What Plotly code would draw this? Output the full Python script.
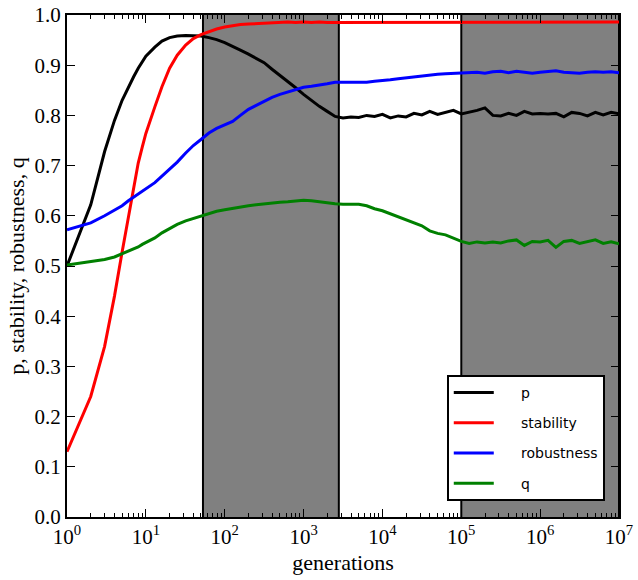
import plotly.graph_objects as go

# generations (log spaced sampling)
generations = [1, 2, 3, 4, 5, 6, 7, 8, 9,
               10, 13, 16, 20, 25, 32, 40, 50, 63, 79,
               100, 126, 158, 200, 251, 316, 398, 501, 631, 794,
               1000, 1259, 1585, 1995, 2512, 3162, 3981, 5012, 6310, 7943,
               10000, 12589, 15849, 19953, 25119, 31623, 39811, 50119, 63096, 79433,
               100000, 125893, 158489, 199526, 251189, 316228, 398107, 501187, 630957, 794328,
               1000000, 1258925, 1584893, 1995262, 2511886, 3162278, 3981072, 5011872, 6309573, 7943282,
               10000000]

p = [0.500, 0.622, 0.728, 0.790, 0.830, 0.857, 0.877, 0.894, 0.907,
     0.918, 0.936, 0.948, 0.955, 0.958, 0.959, 0.959, 0.958, 0.955, 0.951,
     0.945, 0.938, 0.930, 0.922, 0.914, 0.905, 0.892, 0.880, 0.868, 0.855,
     0.842, 0.830, 0.818, 0.808, 0.798, 0.795, 0.797, 0.796, 0.800, 0.798,
     0.802, 0.795, 0.799, 0.797, 0.804, 0.801, 0.808, 0.802, 0.806, 0.810,
     0.803, 0.806, 0.810, 0.815, 0.800, 0.799, 0.804, 0.800, 0.808, 0.803,
     0.804, 0.803, 0.804, 0.797, 0.806, 0.804, 0.799, 0.806, 0.801, 0.806,
     0.803]

stability = [0.130, 0.240, 0.340, 0.440, 0.528, 0.600, 0.655, 0.705, 0.737,
             0.764, 0.817, 0.857, 0.894, 0.920, 0.940, 0.953, 0.961, 0.967, 0.972,
             0.976, 0.979, 0.981, 0.982, 0.983, 0.984, 0.985, 0.985, 0.986, 0.985,
             0.986, 0.985, 0.986, 0.985, 0.985, 0.986, 0.985, 0.986, 0.985, 0.986,
             0.985, 0.986, 0.985, 0.985, 0.986, 0.985, 0.986, 0.985, 0.985, 0.986,
             0.985, 0.986, 0.985, 0.986, 0.985, 0.985, 0.986, 0.985, 0.986, 0.985,
             0.985, 0.986, 0.985, 0.986, 0.985, 0.985, 0.986, 0.985, 0.986, 0.985,
             0.986]

robustness = [0.572, 0.586, 0.600, 0.611, 0.620, 0.630, 0.637, 0.643, 0.648,
              0.654, 0.666, 0.679, 0.693, 0.707, 0.725, 0.740, 0.752, 0.765, 0.774,
              0.781, 0.788, 0.800, 0.812, 0.820, 0.828, 0.836, 0.842, 0.847, 0.852,
              0.856, 0.858, 0.860, 0.863, 0.866, 0.866, 0.865, 0.866, 0.866, 0.868,
              0.869, 0.871, 0.873, 0.875, 0.876, 0.878, 0.880, 0.882, 0.883, 0.884,
              0.885, 0.885, 0.886, 0.884, 0.887, 0.888, 0.885, 0.888, 0.886, 0.884,
              0.886, 0.887, 0.889, 0.886, 0.885, 0.884, 0.886, 0.887, 0.886, 0.887,
              0.885]

q = [0.502, 0.508, 0.513, 0.518, 0.524, 0.529, 0.534, 0.538, 0.543,
     0.547, 0.556, 0.566, 0.575, 0.583, 0.590, 0.595, 0.600, 0.604, 0.609,
     0.612, 0.615, 0.618, 0.620, 0.622, 0.624, 0.626, 0.627, 0.628, 0.630,
     0.631, 0.630, 0.628, 0.625, 0.624, 0.623, 0.623, 0.623, 0.620, 0.614,
     0.610, 0.604, 0.599, 0.592, 0.586, 0.580, 0.570, 0.565, 0.562, 0.555,
     0.549, 0.545, 0.548, 0.546, 0.548, 0.546, 0.550, 0.552, 0.541, 0.549,
     0.548, 0.551, 0.537, 0.549, 0.551, 0.545, 0.549, 0.552, 0.545, 0.548,
     0.544]

# shaded phases
shade1 = (53, 2800)
shade2 = (100000, 10000000)

xtick_vals = [10 ** k for k in range(8)]
xtick_text = ["10<sup>%d</sup>" % k for k in range(8)]
minor_vals = [m * 10 ** k for k in range(7) for m in range(2, 10)]

series = [("p", p, "#000000"),
          ("stability", stability, "#ff0000"),
          ("robustness", robustness, "#0000ff"),
          ("q", q, "#008000")]

fig = go.Figure()
for name, vals, col in series:
    fig.add_trace(go.Scatter(x=generations, y=vals, mode="lines",
                             name="\u00a0" * 5 + name, legendgroup=name,
                             line=dict(color=col, width=3)))

for a, b in [shade1, shade2]:
    fig.add_vrect(x0=a, x1=b, fillcolor="#808080", opacity=1, layer="below", line_width=0)
    fig.add_vline(x=a, line=dict(color="black", width=2), layer="below")
    fig.add_vline(x=b, line=dict(color="black", width=2), layer="below")

fig.update_layout(
    width=638, height=580,
    margin=dict(l=67, r=19, t=15, b=63),
    plot_bgcolor="white", paper_bgcolor="white",
    font=dict(family="Liberation Serif", size=21, color="black"),
    showlegend=True,
    legend=dict(x=0.688, y=0.283, xanchor="left", yanchor="top",
                bgcolor="white", bordercolor="black", borderwidth=2,
                font=dict(family="DejaVu Sans", size=14, color="black"),
                tracegroupgap=9, itemwidth=40),
)
fig.update_xaxes(type="log", range=[0, 7], tickmode="array",
                 tickvals=xtick_vals, ticktext=xtick_text, automargin=False,
                 ticks="inside", ticklen=8, tickwidth=1, tickcolor="black",
                 showline=True, linewidth=2, linecolor="black", mirror="allticks",
                 showgrid=False, zeroline=False,
                 minor=dict(tickmode="array", tickvals=minor_vals, ticks="inside",
                            ticklen=4, tickcolor="black", showgrid=False),
                 title=dict(text="generations", font=dict(size=22), standoff=6))
fig.update_yaxes(range=[0, 1], dtick=0.1, tickformat=".1f", automargin=False,
                 ticks="inside", ticklen=8, tickwidth=1, tickcolor="black",
                 showline=True, linewidth=2, linecolor="black", mirror="allticks",
                 showgrid=False, zeroline=False,
                 title=dict(text="p, stability, robustness, q", font=dict(size=22), standoff=4))

fig.write_html("out.html", config={"displayModeBar": False},
               post_script="document.body.style.margin='0px';")
